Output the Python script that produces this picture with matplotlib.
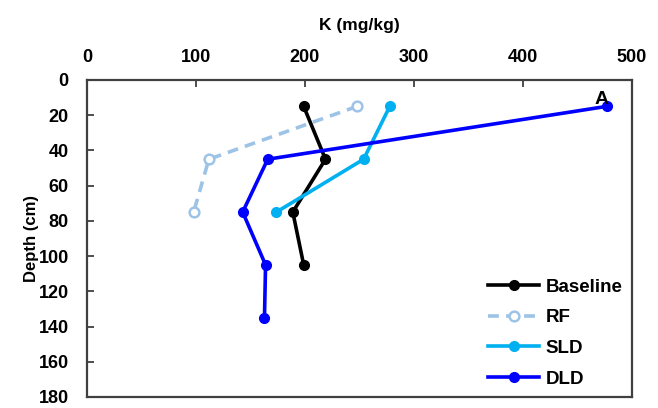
import matplotlib.pyplot as plt

plt.rcParams['font.family'] = ['Liberation Sans', 'DejaVu Sans']
plt.rcParams['font.weight'] = 'bold'

# Datos
depth_base = [15, 45, 75, 105]
k_base = [199, 219, 189, 199]

depth_rf = [15, 45, 75]
k_rf = [248, 112, 98]

depth_sld = [15, 45, 75]
k_sld = [278, 254, 174]

depth_dld = [15, 45, 75, 105, 135]
k_dld = [477, 166, 143, 164, 163]

fig = plt.figure(figsize=(6.58, 4.08), dpi=100)
ax = fig.add_axes([0.132, 0.027, 0.828, 0.777])

lw = 2.6
ms = 7
ax.plot(k_base, depth_base, color='black', lw=lw, marker='o', ms=ms, label='Baseline')
ax.plot(k_rf, depth_rf, color='#9DC3E6', lw=lw, ls=(0, (3, 2)), marker='o', ms=ms,
        mfc='white', mec='#9DC3E6', mew=1.8, label='RF')
ax.plot(k_sld, depth_sld, color='#00B0F0', lw=lw, marker='o', ms=ms, label='SLD')
ax.plot(k_dld, depth_dld, color='#0000FF', lw=lw, marker='o', ms=ms, label='DLD')

ax.set_xlim(0, 500)
ax.set_ylim(180, 0)
ax.set_xticks(range(0, 501, 100))
ax.set_yticks(range(0, 181, 20))
ax.xaxis.set_ticks_position('top')
ax.xaxis.set_label_position('top')
ax.tick_params(axis='both', direction='in', length=5, width=1.3, color='#404040',
               labelsize=13)
ax.tick_params(axis='x', pad=10)
ax.tick_params(axis='y', pad=13)
for s in ax.spines.values():
    s.set_color('#404040')
    s.set_linewidth(1.6)

ax.set_xlabel('K (mg/kg)', fontsize=12.5, fontweight='bold', labelpad=14)
ax.set_ylabel('Depth (cm)', fontsize=12, fontweight='bold', labelpad=0)

ax.text(472, 11, 'A', fontsize=14, fontweight='bold', ha='center', va='center')

ax.legend(loc='lower right', frameon=False, fontsize=13.5, handlelength=2.7,
          labelspacing=0.72, handletextpad=0.35, borderaxespad=0.1)

plt.savefig('out.png', dpi=100)
